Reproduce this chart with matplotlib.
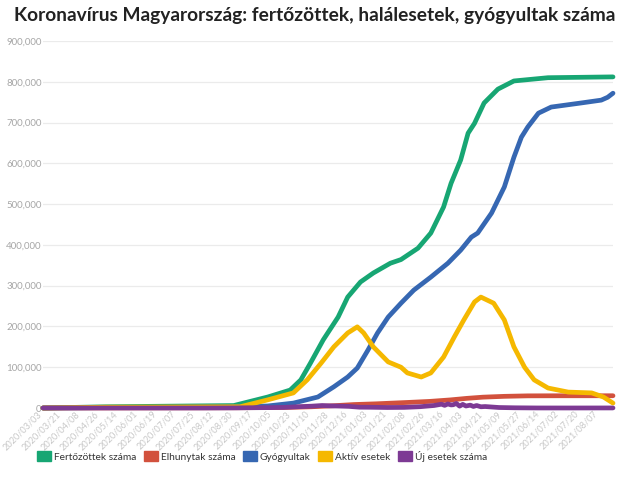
import pandas as pd
import matplotlib
matplotlib.use("Agg")
import matplotlib.pyplot as plt
import matplotlib.transforms as mtransforms
from matplotlib.patches import Patch
from matplotlib.ticker import FuncFormatter
from matplotlib import font_manager

# Fertőzöttek száma (cumulative cases)
fert_dates = ["2020-03-03", "2020-05-01", "2020-08-29", "2020-09-30", "2020-10-21", "2020-10-31",
              "2020-11-09", "2020-11-21", "2020-12-05", "2020-12-14", "2020-12-26", "2021-01-07",
              "2021-01-23", "2021-02-02", "2021-02-18", "2021-03-02", "2021-03-14", "2021-03-21",
              "2021-03-30", "2021-04-06", "2021-04-12", "2021-04-21", "2021-05-04", "2021-05-19",
              "2021-06-20", "2021-08-20"]
fert_vals = [0, 3000, 6000, 27000, 44000, 69000,
             110000, 167000, 223000, 272000, 309000, 331000,
             355000, 364000, 392000, 429000, 493000, 551000,
             608000, 674000, 698000, 748000, 782000, 802000,
             810000, 812000]

# Elhunytak száma (deaths)
elh_dates = ["2020-03-03", "2020-09-01", "2020-10-15", "2020-11-10", "2020-12-01", "2020-12-20",
             "2021-01-10", "2021-02-08", "2021-03-01", "2021-03-20", "2021-04-05", "2021-04-20",
             "2021-05-10", "2021-06-01", "2021-07-01", "2021-08-20"]
elh_vals = [0, 620, 1200, 3000, 5600, 8500,
            10300, 13600, 16200, 19800, 23700, 26600,
            28600, 29800, 30000, 30050]

# Gyógyultak (recovered)
gyo_dates = ["2020-03-03", "2020-09-01", "2020-09-30", "2020-10-24", "2020-11-16", "2020-12-01",
             "2020-12-14", "2020-12-23", "2021-01-02", "2021-01-11", "2021-01-21", "2021-02-02",
             "2021-02-14", "2021-03-02", "2021-03-18", "2021-03-30", "2021-04-09", "2021-04-15",
             "2021-04-28", "2021-05-10", "2021-05-19", "2021-05-26", "2021-06-01", "2021-06-11",
             "2021-06-23", "2021-07-21", "2021-08-09", "2021-08-15", "2021-08-20"]
gyo_vals = [0, 3000, 5000, 12000, 27000, 52000,
            76000, 98000, 142000, 184000, 223000, 257000,
            289000, 321000, 355000, 387000, 419000, 429000,
            478000, 542000, 615000, 664000, 689000, 723000,
            738000, 748000, 755000, 762000, 772000]

# Aktív esetek (active cases)
akt_dates = ["2020-03-03", "2020-05-01", "2020-09-04", "2020-09-30", "2020-10-24", "2020-11-06",
             "2020-11-19", "2020-12-01", "2020-12-14", "2020-12-23", "2020-12-29", "2021-01-07",
             "2021-01-21", "2021-02-02", "2021-02-08", "2021-02-21", "2021-03-02", "2021-03-14",
             "2021-03-24", "2021-04-02", "2021-04-12", "2021-04-18", "2021-04-30", "2021-05-10",
             "2021-05-19", "2021-05-29", "2021-06-07", "2021-06-20", "2021-07-09", "2021-07-31",
             "2021-08-11", "2021-08-20"]
akt_vals = [0, 2000, 3000, 20000, 37000, 69000,
            110000, 150000, 184000, 199000, 184000, 150000,
            113000, 100000, 86000, 76000, 86000, 125000,
            174000, 216000, 260000, 272000, 257000, 216000,
            150000, 100000, 69000, 49000, 39000, 37000,
            27000, 12000]

# Új esetek száma (daily new cases)
uj_dates = ["2020-03-03", "2020-04-10", "2020-06-01", "2020-08-01", "2020-09-01", "2020-09-15",
            "2020-10-01", "2020-10-15", "2020-10-30", "2020-11-10", "2020-11-20", "2020-11-27",
            "2020-12-05", "2020-12-15", "2020-12-25", "2021-01-05", "2021-01-20", "2021-02-05",
            "2021-02-20", "2021-03-05", "2021-03-12", "2021-03-15", "2021-03-18", "2021-03-21",
            "2021-03-23", "2021-03-26", "2021-03-29", "2021-04-01", "2021-04-04", "2021-04-08",
            "2021-04-11", "2021-04-14", "2021-04-18", "2021-04-22", "2021-05-05", "2021-05-20",
            "2021-06-10", "2021-07-10", "2021-08-20"]
uj_vals = [0, 100, 20, 20, 300, 700,
           900, 1500, 3300, 4500, 6100, 5200,
           4800, 4000, 2000, 1800, 1200, 1500,
           3200, 6100, 9300, 6500, 9900, 7600,
           8000, 11200, 4500, 8900, 4900, 7000,
           3800, 6100, 3000, 3600, 1200, 500,
           100, 50, 150]

tick_labels = ["2020/03/03", "2020/03/21", "2020/04/08", "2020/04/26", "2020/05/14", "2020/06/01",
               "2020/06/19", "2020/07/07", "2020/07/25", "2020/08/12", "2020/08/30", "2020/09/17",
               "2020/10/05", "2020/10/23", "2020/11/10", "2020/11/28", "2020/12/16", "2021/01/03",
               "2021/01/21", "2021/02/08", "2021/02/26", "2021/03/16", "2021/04/03", "2021/04/21",
               "2021/05/09", "2021/05/27", "2021/06/14", "2021/07/02", "2021/07/20", "2021/08/07"]

series = [
    ("Fertőzöttek száma", fert_dates, fert_vals, "#17a673"),
    ("Elhunytak száma", elh_dates, elh_vals, "#d2513d"),
    ("Gyógyultak", gyo_dates, gyo_vals, "#3667b2"),
    ("Aktív esetek", akt_dates, akt_vals, "#f5b800"),
    ("Új esetek száma", uj_dates, uj_vals, "#7d3a94"),
]

plt.rcParams["font.family"] = ["Lato", "DejaVu Sans"]
installed = {f.name for f in font_manager.fontManager.ttflist}
narrow = ["Liberation Sans Narrow", "Lato", "DejaVu Sans"] if "Liberation Sans Narrow" in installed \
    else ["Lato", "DejaVu Sans"]

fig = plt.figure(figsize=(6.3, 4.78), dpi=100)
ax = fig.add_axes([43 / 630, 70 / 478, 570 / 630, 367 / 478])

for name, d, v, c in series:
    ax.plot(pd.to_datetime(d), v, color=c, lw=3.4, solid_capstyle="round",
            solid_joinstyle="round", clip_on=False, zorder=3)

ax.set_xlim(pd.Timestamp("2020-03-03"), pd.Timestamp("2021-08-20"))
ax.set_ylim(0, 900000)
ax.set_yticks(range(0, 900001, 100000))
ax.yaxis.set_major_formatter(FuncFormatter(lambda v, p: f"{int(v):,}"))
ax.grid(axis="y", color="#ebebeb", lw=0.9)
ax.set_axisbelow(True)

ax.set_xticks(pd.to_datetime(tick_labels, format="%Y/%m/%d"))
ax.set_xticklabels(tick_labels, rotation=45, ha="right", va="top", family=narrow)
shift = mtransforms.ScaledTranslation(6 / 72, 0, fig.dpi_scale_trans)
for lbl in ax.get_xticklabels():
    lbl.set_transform(lbl.get_transform() + shift)
ax.tick_params(axis="x", length=0, labelsize=6.6, labelcolor="#c8c8c8", pad=1)
ax.tick_params(axis="y", length=0, labelsize=7.0, labelcolor="#a6a6a6", pad=1)
for s in ax.spines.values():
    s.set_visible(False)

fig.text(0.5, 0.985, "Koronavírus Magyarország: fertőzöttek, halálesetek, gyógyultak száma",
         ha="center", va="top", fontsize=13.8, fontweight="bold", color="#222222")

handles = [Patch(facecolor=c, edgecolor=c, label=n) for n, d, v, c in series]
fig.legend(handles=handles, loc="center left", bbox_to_anchor=(28 / 630, 1 - 456 / 478),
           ncol=5, frameon=False, handlelength=1.4, handleheight=1.0,
           handletextpad=0.25, columnspacing=0.75, labelcolor="#333333",
           prop={"family": narrow, "size": 7.3})

fig.savefig("out.png", dpi=100)
